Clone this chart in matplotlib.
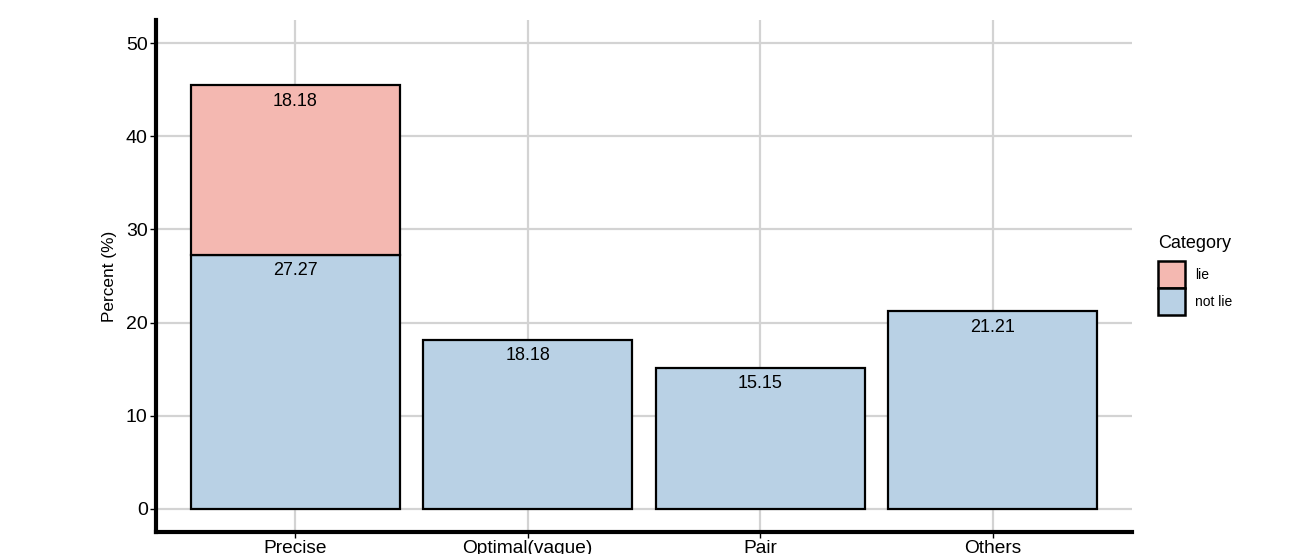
import numpy as np
import matplotlib.pyplot as plt
from matplotlib.patches import Patch

plt.rcParams['font.family'] = ['Liberation Sans', 'DejaVu Sans']

# data
categories = ['Precise', 'Optimal(vague)', 'Pair', 'Others']
not_lie = [27.27, 18.18, 15.15, 21.21]
lie = [18.18, 0, 0, 0]

col_lie = '#f4b8b1'
col_not = '#b9d1e5'

fig = plt.figure(figsize=(13.03, 5.54), dpi=100)
ax = fig.add_axes([0.1197, 0.0397, 0.7491, 0.9242])

x = np.arange(len(categories))
ax.bar(x, not_lie, width=0.9, color=col_not, edgecolor='black', linewidth=1.6, zorder=3)
ax.bar(x, lie, width=0.9, bottom=not_lie, color=col_lie, edgecolor='black', linewidth=1.6, zorder=3)

# hide zero-height lie bars
for p in ax.patches[len(categories):]:
    if p.get_height() == 0:
        p.set_visible(False)

for i in range(len(categories)):
    ax.text(x[i], not_lie[i] - 0.8, f'{not_lie[i]:.2f}', ha='center', va='top', fontsize=13, zorder=4)
    if lie[i] > 0:
        top = not_lie[i] + lie[i]
        ax.text(x[i], top - 0.8, f'{lie[i]:.2f}', ha='center', va='top', fontsize=13, zorder=4)

ax.set_xlim(-0.6, 3.6)
ax.set_ylim(-2.47, 52.47)
ax.set_yticks([0, 10, 20, 30, 40, 50])
ax.set_xticks(x)
ax.set_xticklabels(categories, fontsize=13.8)
ax.tick_params(axis='y', labelsize=14, length=4, width=1, pad=2)
ax.tick_params(axis='x', length=4, width=1, pad=2)
ax.set_ylabel('Percent (%)', fontsize=12.4, labelpad=6)

ax.grid(True, color='#d3d3d3', linewidth=1.6, zorder=0)
ax.set_axisbelow(True)
for s in ['top', 'right']:
    ax.spines[s].set_visible(False)
for s in ['left', 'bottom']:
    ax.spines[s].set_linewidth(3)

# legend
handles = [Patch(facecolor=col_lie, edgecolor='black', linewidth=1.8, label='lie'),
           Patch(facecolor=col_not, edgecolor='black', linewidth=1.8, label='not lie')]
fig.legend(handles=handles, loc='upper left',
           bbox_to_anchor=(1157.5 / 1303, 1 - 261 / 554), frameon=False, fontsize=10,
           handlelength=1.95, handleheight=2.6,
           labelspacing=0.0, handletextpad=0.75, borderaxespad=0, borderpad=0)
fig.text(1158 / 1303, 1 - 244 / 554, 'Category', fontsize=13, ha='left', va='center')

fig.savefig('out.png', dpi=100)
